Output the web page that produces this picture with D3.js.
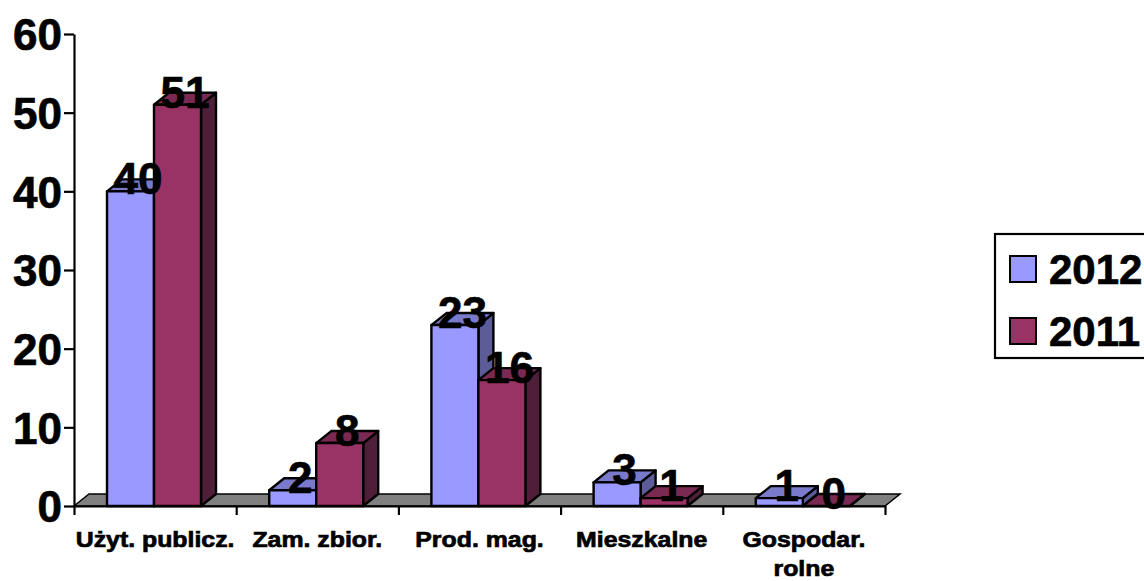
<!DOCTYPE html>
<html>
<head>
<meta charset="utf-8">
<script src="https://cdn.jsdelivr.net/npm/d3@7"></script>
<style>
  html, body { margin: 0; padding: 0; background: #fff; overflow: hidden; }
  text { font-family: "Liberation Sans", Arial, sans-serif; font-weight: bold; fill: #000; }
  .heavy { stroke: #000; stroke-width: 0.7px; }
</style>
</head>
<body>
<svg id="chart" width="1144" height="581"></svg>
<script>
const categories = ["Użyt. publicz.", "Zam. zbior.", "Prod. mag.", "Mieszkalne", "Gospodar.|rolne"];
const seriesNames = ["2012", "2011"];
const values2012 = [40, 2, 23, 3, 1];
const values2011 = [51, 8, 16, 1, 0];
const yTicks = [0, 10, 20, 30, 40, 50, 60];

const colors = {
  "2012": { front: "#9999ff", top: "#7a7acc", side: "#5c5c99" },
  "2011": { front: "#993366", top: "#7a2952", side: "#4f1f3a" }
};

// oblique offset of the 3d look
const depthX = 15, depthY = 12;

const svg = d3.select("#chart");

const y = d3.scaleLinear().domain([0, 60]).range([506, 34]);
const x = d3.scaleBand().domain(categories).range([74, 885]);
const xEdge = d3.scaleLinear().domain([0, 5]).range([74, 885]);
const xInner = d3.scaleBand().domain(seriesNames).range([33, 127]);

const poly = pts => pts.map(p => p.join(",")).join(" ");

// floor
svg.append("polygon")
  .attr("points", poly([[x.range()[0], y(0)], [x.range()[0] + depthX, y(0) - depthY],
                        [x.range()[1] + depthX, y(0) - depthY], [x.range()[1], y(0)]]))
  .attr("fill", "#808080").attr("stroke", "#000").attr("stroke-width", 1.5);

// bars
const rows = [];
categories.forEach((c, i) => {
  rows.push({ cat: c, name: "2012", value: values2012[i] });
  rows.push({ cat: c, name: "2011", value: values2011[i] });
});

const bars = svg.append("g").selectAll("g").data(rows).join("g")
  .attr("stroke", "#000").attr("stroke-width", 2.4).attr("stroke-linejoin", "round");

bars.each(function(d) {
  const g = d3.select(this);
  const x0 = x(d.cat) + xInner(d.name), x1 = x0 + xInner.bandwidth();
  const yt = y(d.value), yb = y(0);
  g.append("polygon")
    .attr("points", poly([[x1, yb], [x1 + depthX, yb - depthY], [x1 + depthX, yt - depthY], [x1, yt]]))
    .attr("fill", colors[d.name].side);
  g.append("polygon")
    .attr("points", poly([[x0, yt], [x0 + depthX, yt - depthY], [x1 + depthX, yt - depthY], [x1, yt]]))
    .attr("fill", colors[d.name].top);
  if (d.value > 0) {
    g.append("rect")
      .attr("x", x0).attr("y", yt).attr("width", x1 - x0).attr("height", yb - yt)
      .attr("fill", colors[d.name].front);
  }
});

// axes
const yAxis = svg.append("g").attr("transform", "translate(74,0)")
  .call(d3.axisLeft(y).tickValues(yTicks).tickSize(10).tickPadding(2).tickSizeOuter(0));
yAxis.selectAll("text").attr("class", "heavy").style("font-size", "44px").attr("dy", "0.36em")
  .attr("font-family", null);

const xAxis = svg.append("g").attr("transform", "translate(0,506)")
  .call(d3.axisBottom(xEdge).tickValues(d3.range(6)).tickSize(9).tickFormat("").tickSizeOuter(0));

svg.selectAll(".domain, .tick line").attr("stroke", "#000").attr("stroke-width", 2.2);

// category labels, the reference type is stretched wide
const catLabels = svg.append("g").selectAll("text").data(categories).join("text")
  .attr("text-anchor", "middle")
  .attr("class", "heavy")
  .style("font-size", "22px")
  .attr("transform", d => `translate(${x(d) + x.bandwidth() / 2},547) scale(1.13,1)`);
catLabels.selectAll("tspan").data(d => d.split("|")).join("tspan")
  .attr("x", 0).attr("y", (d, i) => i * 29).text(d => d);

// value labels
svg.append("g").selectAll("text").data(rows).join("text")
  .attr("text-anchor", "middle")
  .attr("class", "heavy")
  .style("font-size", "44px")
  .attr("x", d => x(d.cat) + xInner(d.name) + xInner.bandwidth() / 2 + depthX / 2)
  .attr("y", d => y(d.value) + 3)
  .text(d => d.value);

// legend
const legend = svg.append("g");
legend.append("rect")
  .attr("x", 995).attr("y", 234).attr("width", 170).attr("height", 124)
  .attr("fill", "#fff").attr("stroke", "#000").attr("stroke-width", 2.2);
const legendY = d3.scalePoint().domain(seriesNames).range([269, 331]);
const items = legend.selectAll("g").data(seriesNames).join("g")
  .attr("transform", d => `translate(0,${legendY(d)})`);
items.append("rect")
  .attr("x", 1010).attr("y", -13).attr("width", 26).attr("height", 26)
  .attr("fill", d => colors[d].front).attr("stroke", "#000").attr("stroke-width", 2);
items.append("text")
  .attr("class", "heavy")
  .attr("x", 1049).attr("y", 15)
  .style("font-size", "42px")
  .text(d => d);
</script>
</body>
</html>
